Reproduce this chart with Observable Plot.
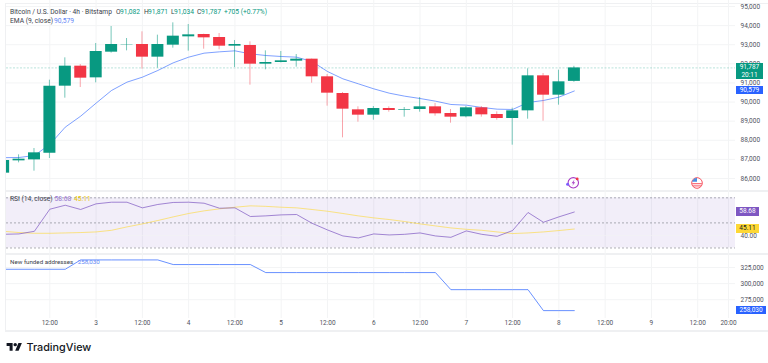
<!DOCTYPE html>
<html>
<head>
<meta charset="utf-8">
<script src="https://cdn.jsdelivr.net/npm/d3@7"></script>
<script src="https://cdn.jsdelivr.net/npm/@observablehq/plot@0.6"></script>
<style>
html,body{margin:0;padding:0;background:#fff;overflow:hidden}
#chart{position:relative;width:768px;height:363px;font-family:Roboto,sans-serif;overflow:hidden}
#chart svg.pane{position:absolute;left:0;background:transparent}
.sep{position:absolute;background:#eff0f2}
.lg{position:absolute;left:10px;font-size:6.7px;line-height:8px;color:#3a3e4a;white-space:pre;background:transparent}
.lg span{position:absolute;top:0}
.tag{position:absolute;left:736px;color:#fff;font-size:6.5px;text-align:center;line-height:8.5px}
</style>
</head>
<body>
<div id="chart"></div>
<script>
// Hours since 00:00 on day 2, one per 4h candle
const hours = [0,4,8,12,16,20,24,28,32,36,40,44,48,52,56,60,64,68,72,76,80,84,88,92,96,100,104,108,112,116,120,124,128,132,136,140,144,148];
const opens = [86279,86924,86976,87325,90831,91878,91267,92610,92995,93012,92349,92977,93413,93535,93378,92924,92959,91982,92070,92140,92244,91320,90447,89593,89314,89663,89575,89610,89750,89401,89227,89698,89349,89139,89540,91372,90360,91082];
const highs = [86990,87238,87569,91145,92314,91965,93064,93953,93325,93674,93500,94145,94058,93552,93587,93221,93151,92680,92645,92488,92250,91442,90500,89750,89767,89750,89715,90238,89924,89610,89767,89767,89488,89680,91738,91494,91669,91871];
const lows = [86200,86819,86383,87046,90203,90761,91006,92560,92680,91721,91773,92820,92663,92767,92733,91808,90883,91686,92052,91825,90988,89785,88128,88947,89052,89471,89209,89471,89262,88895,89174,89209,89052,87744,89104,89000,89837,91034];
const closes = [86942,87011,87343,90831,91878,91250,92645,93012,93012,92349,93012,93448,93517,93360,92924,93012,91982,92070,92157,92244,91320,90465,89628,89314,89663,89558,89610,89750,89384,89209,89698,89331,89139,89540,91372,90360,91058,91787];
const emaValues = [87090,87098,87203,87779,88686,89261,89942,90605,91041,91302,91651,92052,92349,92558,92628,92680,92523,92436,92384,92349,92122,91599,91215,90954,90692,90466,90308,90186,90047,89873,89838,89716,89628,89611,89977,90082,90256,90579];
const rsiValues = [40.9,41.2,43.3,60.9,64.1,60.7,65.2,66.5,66.5,62.0,64.7,66.3,66.5,65.7,61.7,62.0,55.1,55.6,56.4,56.7,49.7,44.4,39.6,38.0,41.2,40.4,40.9,42.0,39.6,38.5,43.6,40.9,39.3,43.9,58.3,50.5,54.8,58.68];
const rsiMaValues = [43.3,42.3,41.7,41.7,42.0,42.3,42.8,44.1,46.8,49.2,51.9,54.8,57.5,59.6,61.2,62.5,63.6,63.2,62.5,62.0,60.7,59.3,57.5,55.6,54.0,52.7,51.1,49.2,47.6,46.0,44.9,44.1,42.8,41.5,42.0,42.8,43.9,45.11];
const fundedValues = [322344,322344,322344,322344,322344,336875,336875,336875,336875,336875,336875,329687,329687,329687,329687,329687,329687,317187,317187,317187,317187,317187,317187,317187,317187,317187,317187,317187,317187,290625,290625,290625,290625,290625,290625,258030,258030,258030];

const timeTicks = [12,24,36,48,60,72,84,96,108,120,132,144,156,168,180,188];
const timeLabels = ["12:00","3","12:00","4","12:00","5","12:00","6","12:00","7","12:00","8","12:00","9","12:00","20:00"];
const priceTicks = [86000,87000,88000,89000,90000,91000,92000,93000,94000,95000];
const rsiTicks = [40];
const rsiLevels = [70,50,30];
const fundedTicks = [275000,300000,325000];
const lastPrice = 91787, lastEma = 90579, lastRsi = 58.68, lastRsiMa = 45.11, lastFunded = 258030;

const GREEN = "#089981", RED = "#f23645", BLUE = "#2962ff", PURPLE = "#7e57c2", YELLOW = "#fdd835", GRID = "#f3f4f5";
const W = 768;
const xDomain = [0.77, 189.8];
const xRange = [6, 735];

const candles = hours.map((h,i)=>({h, open:opens[i], high:highs[i], low:lows[i], close:closes[i], ema:emaValues[i], rsi:rsiValues[i], ma:rsiMaValues[i], funded:fundedValues[i]}));
const ups = candles.filter(d=>d.close>=d.open);
const downs = candles.filter(d=>d.close<d.open);
const fmt = d3.format(",");
const axisStyle = {fontSize:"6.5px", fontFamily:"Roboto,sans-serif", color:"#50535e", fill:"#50535e"};

function pane(top, height, marginBottom, yDomain, marks){
  const p = Plot.plot({
    width:W, height, marginLeft:xRange[0], marginRight:W-xRange[1], marginTop:0, marginBottom,
    style:{background:"transparent", overflow:"visible", fontFamily:"Roboto,sans-serif", fontSize:"6.5px"},
    x:{domain:xDomain, range:xRange, axis:null},
    y:{domain:yDomain, range:[height-marginBottom,0], axis:null},
    marks
  });
  p.classList.add("pane");
  p.style.top = top+"px";
  return p;
}
const gridX = (y1,y2)=>Plot.ruleX(timeTicks,{x:d=>d,y1,y2,stroke:GRID,strokeWidth:1});
const yAxis = (ticks,f)=>Plot.axisY(ticks,{anchor:"right",tickSize:0,tickPadding:5,tickFormat:f,label:null,...axisStyle,textAnchor:"start"});

const priceTop = [85372,95314];
const pricePlot = pane(0,190,0,priceTop,[
  gridX(priceTop[0],priceTop[1]),
  Plot.ruleY(priceTicks,{x1:xDomain[0],x2:xDomain[1],y:d=>d,stroke:GRID}),
  Plot.ruleY([lastPrice],{x1:xDomain[0],x2:xDomain[1],y:d=>d,stroke:GREEN,strokeOpacity:.28,strokeDasharray:"2,1.5"}),
  Plot.lineY(candles,{x:"h",y:"ema",stroke:BLUE,strokeOpacity:.6,strokeWidth:1,clip:true}),
  Plot.ruleX(ups,{x:"h",y1:"low",y2:"high",stroke:GREEN,strokeOpacity:.55,strokeWidth:1,dx:-0.4,clip:true}),
  Plot.ruleX(downs,{x:"h",y1:"low",y2:"high",stroke:RED,strokeOpacity:.45,strokeWidth:1,dx:-0.4,clip:true}),
  Plot.ruleX(ups,{x:"h",y1:"open",y2:"close",stroke:GREEN,strokeWidth:12,dx:-0.4,clip:true}),
  Plot.ruleX(downs,{x:"h",y1:"open",y2:"close",stroke:RED,strokeWidth:12,dx:-0.4,clip:true}),
  yAxis(priceTicks,fmt)
]);

const rsiDomain = [25.2,75.84];
const rsiPlot = pane(190,63.5,0,rsiDomain,[
  gridX(rsiDomain[0],rsiDomain[1]),
  Plot.rectY([rsiLevels],{x1:xDomain[0],x2:xDomain[1],y1:d=>d[2],y2:d=>d[0],fill:PURPLE,fillOpacity:.1}),
  Plot.ruleY(rsiTicks,{x1:xDomain[0],x2:xDomain[1],y:d=>d,stroke:GRID,strokeOpacity:.6}),
  Plot.ruleY(rsiLevels,{x1:xDomain[0],x2:xDomain[1],y:d=>d,stroke:"#787b86",strokeOpacity:.6,strokeDasharray:"2,2"}),
  Plot.lineY(candles,{x:"h",y:"ma",stroke:YELLOW,strokeOpacity:.6,strokeWidth:1,clip:true}),
  Plot.lineY(candles,{x:"h",y:"rsi",stroke:PURPLE,strokeOpacity:.7,strokeWidth:1,clip:true}),
  yAxis(rsiTicks,d=>d.toFixed(2))
]);

const fundedDomain = [245781,346875];
const fundedPlot = pane(253,77,12,fundedDomain,[
  gridX(fundedDomain[0],fundedDomain[1]),
  Plot.ruleY(fundedTicks,{x1:xDomain[0],x2:xDomain[1],y:d=>d,stroke:GRID}),
  Plot.lineY(candles,{x:"h",y:"funded",stroke:BLUE,strokeOpacity:.7,strokeWidth:1,clip:true}),
  yAxis(fundedTicks,fmt),
  Plot.axisX(timeTicks,{anchor:"bottom",tickSize:0,tickPadding:2,tickFormat:d=>timeLabels[timeTicks.indexOf(d)],label:null,...axisStyle})
]);

const root = document.getElementById("chart");
function sep(css){const d=document.createElement("div");d.className="sep";d.style.cssText=css;root.appendChild(d);}
sep("left:5px;width:763px;top:3px;height:1px");
sep("left:5px;width:763px;top:190px;height:1.5px");
sep("left:5px;width:763px;top:253px;height:1.5px");
sep("left:5px;width:763px;top:330px;height:1.5px");
sep("left:5px;width:1px;top:3px;height:327px");
root.append(pricePlot,rsiPlot,fundedPlot);

function tag(text,top,h,width,bg,fg){
  const d=document.createElement("div");d.className="tag";
  d.style.cssText=`top:${top}px;height:${h}px;width:${width}px;background:${bg};color:${fg||"#fff"};`;
  d.innerHTML=text;root.appendChild(d);
}
const yP = v=>pricePlot.scale("y").apply(v);
const yR = v=>190+rsiPlot.scale("y").apply(v);
const yF = v=>253+fundedPlot.scale("y").apply(v);
tag(`${fmt(lastPrice)}<br>20:11`,yP(lastPrice)-4.5,16.5,27,GREEN);
tag(fmt(lastEma),yP(lastEma)-4.2,8.2,27,BLUE);
tag(lastRsi.toFixed(2),yR(lastRsi)-4.2,8.5,23,PURPLE);
tag(lastRsiMa.toFixed(2),yR(lastRsiMa)-4.2,8.5,23,YELLOW,"#131722");
tag(fmt(lastFunded),yF(lastFunded)-4.2,8.5,30,BLUE);

function legend(top,main,parts,size){
  const d=document.createElement("div");d.className="lg";d.style.top=top+"px";d.textContent=main;
  if(size)d.style.fontSize=size+"px";
  for(const [t,x,c] of parts){const s=document.createElement("span");s.textContent=t;s.style.left=(x-10)+"px";s.style.color=c;d.appendChild(s);}
  root.appendChild(d);
}
legend(8.3,"Bitcoin / U.S. Dollar · 4h · Bitstamp",[["O",116,"#3a3e4a"],["91,082",120,GREEN],["H",144,"#3a3e4a"],["91,871",148,GREEN],["L",171,"#3a3e4a"],["91,034",174,GREEN],["C",197,"#3a3e4a"],["91,787",201,GREEN],["+705 (+0.77%)",224,GREEN]]);
legend(17,"EMA (9, close)",[[ "90,579",54,"#5f86f5"]]);
legend(195,"RSI (14, close)",[["58.68",54.5,"#9575cd"],["45.11",74,"#e9c400"]]);
legend(258,"New funded addresses",[["258,030",77.7,"#5f86f5"]],6.2);

const overlay=document.createElement("div");
overlay.innerHTML=`
<svg style="position:absolute;left:0;top:0" width="768" height="363" xmlns="http://www.w3.org/2000/svg">
 <circle cx="573.3" cy="182.8" r="5.2" fill="#fff" stroke="#a83cc4" stroke-width="1.1"/>
 <path d="M574.5 179.6 L571.6 183.3 L573.4 183.3 L572.2 186 L575.2 182.2 L573.5 182.2 Z" fill="#a83cc4"/>
 <circle cx="567.6" cy="184.3" r="1.5" fill="#7c5cff"/>
 <circle cx="577.2" cy="178.9" r="1.4" fill="#f23645"/>
 <circle cx="697" cy="183" r="5.3" fill="#fff" stroke="#f7525f" stroke-width="1"/>
 <path d="M692.6 180.4 a5 5 0 0 1 4.4 -2.6 v4 h-5 z" fill="#4d90e0"/>
 <rect x="692.2" y="183.2" width="9.6" height="1" fill="#f7525f"/>
 <rect x="693" y="185.4" width="8" height="1" fill="#f7525f"/>
 <g transform="translate(6.6,341.2) scale(0.43)" fill="#131722">
   <path d="M14 22H7V11H0V4h14v18zM28 22h-8l7.5-18h8L28 22z"/><circle cx="20" cy="8" r="4"/>
 </g>
</svg>
<div style="position:absolute;left:26.5px;top:339.5px;font:500 10.8px/15px Inter,sans-serif;color:#131722">TradingView</div>`;
root.appendChild(overlay);
</script>
</body>
</html>
